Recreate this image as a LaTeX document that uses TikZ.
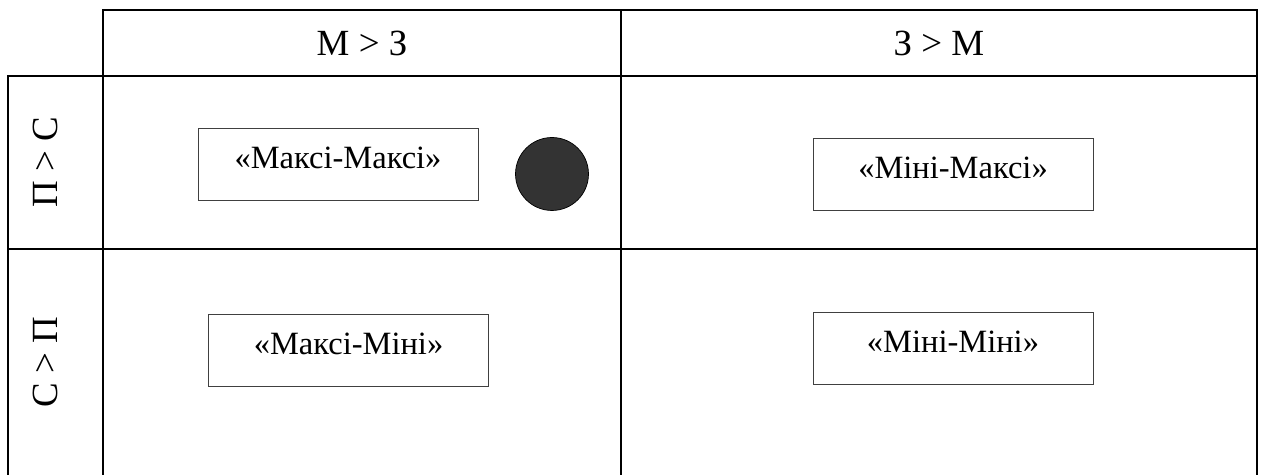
\documentclass[tikz,border=0pt]{standalone}
\usepackage{fontspec}
\setmainfont{Liberation Serif}
\begin{document}
\begin{tikzpicture}[x=0.02cm, y=-0.02cm, thick,
    every node/.style={font=\fontsize{18.5pt}{22pt}\selectfont},
    headtext/.style={font=\fontsize{21pt}{25pt}\selectfont},
    stratbox/.style={draw=black!75, thin, inner sep=0pt, minimum width=5.6cm,
      minimum height=1.44cm, text height=0.46cm, text depth=0.27cm}]
  \useasboundingbox (0,0) rectangle (1262,475);
  % table grid
  \draw (103,476) -- (103,10) -- (1257,10) -- (1257,476);
  \draw (621,10) -- (621,476);
  \draw (8,476) -- (8,76) -- (1257,76);
  \draw (8,249) -- (1257,249);
  % headers
  \node[headtext] (mz) at (362,43) {М > З};
  \node[headtext] (zm) at (939,43) {З > М};
  \node[headtext, rotate=90] (ps) at (45,162) {П > С};
  \node[headtext, rotate=90] (sp) at (45,362) {С > П};
  % strategies
  \node[stratbox] (maxmax) at (338,164) {«Максі-Максі»};
  \node[stratbox] (minmax) at (953,174) {«Міні-Максі»};
  \node[stratbox] (maxmin) at (348.5,350) {«Максі-Міні»};
  \node[stratbox] (minmin) at (953,348) {«Міні-Міні»};
  \node[circle, draw, thin, fill=black!80, minimum size=1.46cm, inner sep=0pt] (dot) at (552,174) {};
\end{tikzpicture}
\end{document}
